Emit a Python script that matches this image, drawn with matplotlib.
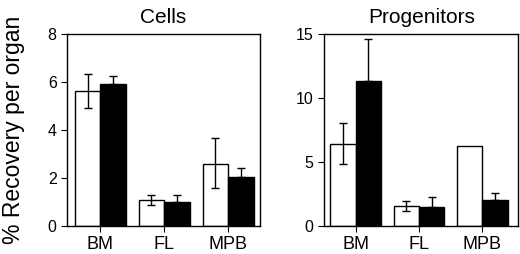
import numpy as np
import matplotlib
matplotlib.use('Agg')
from matplotlib import pyplot as plt

plt.rcParams['font.family'] = ['Liberation Sans', 'DejaVu Sans']

groups = ['BM', 'FL', 'MPB']

cells_white = [5.63, 1.1, 2.6]
cells_white_hi = [6.33, 1.28, 3.65]
cells_white_lo = [4.9, 0.88, 1.6]
cells_black = [5.9, 1.0, 2.03]
cells_black_hi = [6.25, 1.3, 2.4]

# MPB white bar in progenitors has no error bar
prog_white = [6.43, 1.57, 6.24]
prog_white_hi = [8.05, 1.93, np.nan]
prog_white_lo = [4.86, 1.15, np.nan]
prog_black = [11.36, 1.49, 2.04]
prog_black_hi = [14.58, 2.25, 2.61]

fig = plt.figure(figsize=(5.2, 2.54), dpi=100)
ax1 = fig.add_axes([0.129, 0.110, 0.371, 0.756])
ax2 = fig.add_axes([0.623, 0.110, 0.374, 0.756])

w = 0.4
x = np.arange(len(groups))


def draw(ax, white, whi, wlo, black, bhi, ylim, yticks, title, xlim):
    white = np.array(white)
    black = np.array(black)
    ax.bar(x - w / 2, white, w, color='white', edgecolor='black', linewidth=1.0, zorder=2)
    ax.bar(x + w / 2, black, w, color='black', edgecolor='black', linewidth=1.0, zorder=2)
    err_w = [white - np.array(wlo), np.array(whi) - white]
    ok = ~np.isnan(err_w[0])
    ax.errorbar((x - w / 2)[ok], white[ok], yerr=[err_w[0][ok], err_w[1][ok]], fmt='none',
                ecolor='black', elinewidth=1.0, capsize=3, capthick=1.0, zorder=3)
    err_b = [np.zeros(3), np.array(bhi) - black]
    ax.errorbar(x + w / 2, black, yerr=err_b, fmt='none', ecolor='black',
                elinewidth=1.0, capsize=3, capthick=1.0, zorder=3)
    ax.set_ylim(*ylim)
    ax.set_xlim(*xlim)
    ax.set_yticks(yticks)
    ax.set_xticks(x)
    ax.set_xticklabels(groups, fontsize=13)
    ax.tick_params(axis='y', labelsize=11.5, length=4, direction='out')
    ax.tick_params(axis='x', length=4, direction='out', pad=3)
    ax.set_title(title, fontsize=15, pad=8)
    for s in ax.spines.values():
        s.set_linewidth(1.0)


draw(ax1, cells_white, cells_white_hi, cells_white_lo, cells_black, cells_black_hi,
     (0, 8), [0, 2, 4, 6, 8], 'Cells', (-0.52, 2.5))
draw(ax2, prog_white, prog_white_hi, prog_white_lo, prog_black, prog_black_hi,
     (0, 15), [0, 5, 10, 15], 'Progenitors', (-0.5, 2.57))

ax1.set_ylabel('% Recovery per organ', fontsize=16.5, labelpad=16)

fig.savefig('out.png', dpi=100)
